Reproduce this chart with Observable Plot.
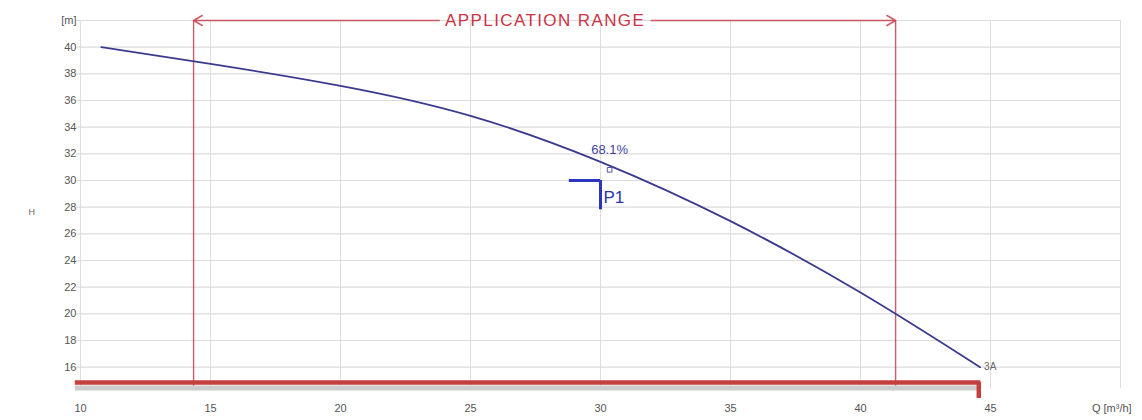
<!DOCTYPE html>
<html>
<head>
<meta charset="utf-8">
<script src="https://cdn.jsdelivr.net/npm/d3@7"></script>
<script src="https://cdn.jsdelivr.net/npm/@observablehq/plot@0.6"></script>
<style>
  html, body { margin: 0; padding: 0; background: #fff; }
  #chart svg { display: block; }
  .range-label text { letter-spacing: 1.4px; }
</style>
</head>
<body>
<div id="chart"></div>
<script>
// ---- data ----
const flowQ = [10.8, 15, 20, 25, 30, 35, 40, 44.6];
const headH = [40.0, 38.75, 37.1, 34.85, 31.4, 26.95, 21.6, 16.0];
const xTicks = [10, 15, 20, 25, 30, 35, 40, 45];
const xGrid = [10, 15, 20, 25, 30, 35, 40, 45, 50];
const yTicks = [16, 18, 20, 22, 24, 26, 28, 30, 32, 34, 36, 38, 40, 42];
const rangeQ = [14.35, 41.35];
const rangeLabel = "APPLICATION RANGE";
const dutyQ = 30, dutyH = 30;
const dutyLabel = "P1";
const effQ = 30.35, effH = 30.8;
const effLabel = "68.1%";
const curveLabel = "3A";
const bracketQ = [9.8, 44.55];
const bracketH = [14.85, 13.65];

const curve = flowQ.map((q, i) => ({q, h: headH[i]}));
const red = "#c8404e";

const chart = Plot.plot({
  width: 1142,
  height: 420,
  marginLeft: 80,
  marginRight: 22,
  marginTop: 20,
  marginBottom: 32,
  style: {fontFamily: "'Liberation Sans', Arial, sans-serif", fontSize: "11px", color: "#555", background: "#fff"},
  x: {domain: [10, 50], ticks: xTicks, tickSize: 0, tickPadding: 16, label: null},
  y: {domain: [14.4, 42], ticks: yTicks, tickSize: 0, tickPadding: 4, label: null,
      tickFormat: d => d === 42 ? "[m]" : d},
  marks: [
    Plot.gridX(xGrid, {stroke: "#e2dcdc", strokeOpacity: 1, strokeWidth: 1}),
    Plot.gridY(yTicks, {stroke: "#dcdcdc", strokeOpacity: 1, strokeWidth: 1.2, x1: 9.85, x2: 50}),
    // application range verticals
    Plot.ruleX(rangeQ, {y1: 14.4, y2: 42, stroke: red, strokeWidth: 1.4, strokeOpacity: 0.85}),
    // top arrows
    Plot.arrow([{x1: 23.8, x2: rangeQ[0]}], {x1: "x1", x2: "x2", y1: 42, y2: 42, stroke: red, strokeWidth: 1.5, headLength: 10, strokeOpacity: 0.85}),
    Plot.arrow([{x1: 31.95, x2: rangeQ[1]}], {x1: "x1", x2: "x2", y1: 42, y2: 42, stroke: red, strokeWidth: 1.5, headLength: 10, strokeOpacity: 0.85}),
    Plot.text([rangeLabel], {x: 27.87, y: 42, text: d => d, fill: "#cc3344", fontSize: 17, fontWeight: 500, className: "range-label"}),
    // pump curve
    Plot.line(curve, {x: "q", y: "h", curve: "natural", stroke: "#3b3b8e", strokeWidth: 1.8}),
    Plot.text([curveLabel], {x: flowQ[flowQ.length - 1], y: headH[headH.length - 1], text: d => d, dx: 4, textAnchor: "start", fill: "#666", fontSize: 10}),
    // efficiency marker
    Plot.dot([{q: effQ, h: effH}], {x: "q", y: "h", symbol: "square", r: 2.6, stroke: "#5555aa", strokeWidth: 1, fill: "none"}),
    Plot.text([effLabel], {x: effQ, y: effH, dy: -20, text: d => d, fill: "#4444a0", fontSize: 13}),
    // duty point P1
    Plot.ruleY([dutyH], {x1: dutyQ - 1.2, x2: dutyQ, stroke: "#2a35c0", strokeWidth: 3}),
    Plot.ruleX([dutyQ], {y1: dutyH, y2: dutyH - 2.2, stroke: "#2a35c0", strokeWidth: 3}),
    Plot.text([dutyLabel], {x: dutyQ, y: dutyH - 1.3, dx: 3, text: d => d, textAnchor: "start", fill: "#2a35b0", fontSize: 17}),
    // bottom bracket
    Plot.ruleY([bracketH[0] - 0.42], {x1: bracketQ[0], x2: bracketQ[1], stroke: "#cccccc", strokeWidth: 5}),
    Plot.ruleY([bracketH[0]], {x1: bracketQ[0], x2: bracketQ[1] + 0.08, stroke: "#c4403c", strokeWidth: 4.5}),
    Plot.ruleX([bracketQ[1]], {y1: bracketH[0], y2: bracketH[1], stroke: "#c4403c", strokeWidth: 4.5}),
    // axis titles
    Plot.text(["H"], {frameAnchor: "left", dx: -52, dy: 8, text: d => d, fontSize: 9, fill: "#666"}),
    Plot.text(["Q [m³/h]"], {x: 48.9, y: 14.4, dy: 20, text: d => d, textAnchor: "start", fontSize: 11, fill: "#555"})
  ]
});
document.getElementById("chart").appendChild(chart);
</script>
</body>
</html>
